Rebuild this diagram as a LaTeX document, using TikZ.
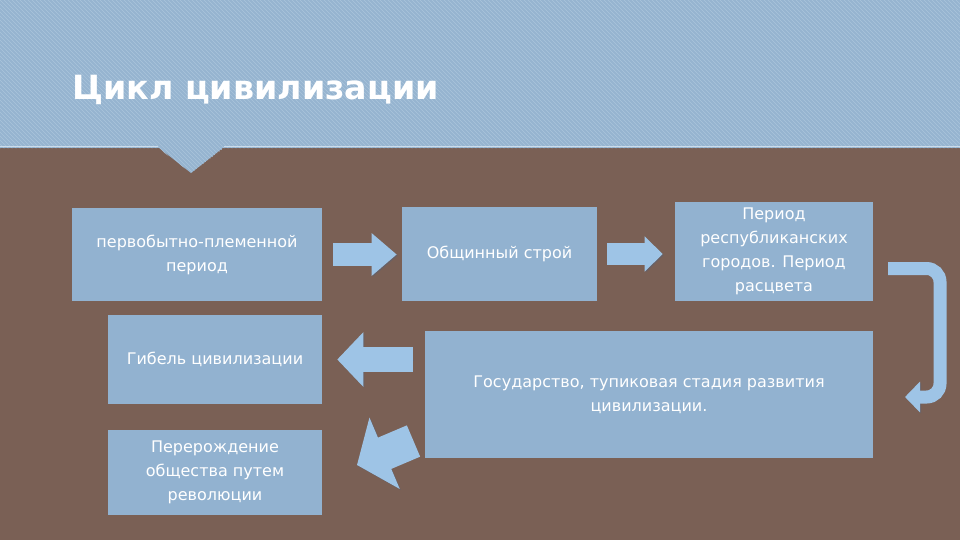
\documentclass[tikz,border=0pt]{standalone}
\usepackage{fontspec}
\setmainfont{DejaVu Sans}
\usetikzlibrary{arrows.meta,patterns}

\definecolor{fonbrown}{RGB}{122,96,85}
\definecolor{shapkablue}{RGB}{150,180,208}
\definecolor{polosa}{RGB}{170,196,220}
\definecolor{boxblue}{RGB}{146,178,208}
\definecolor{strelka}{RGB}{158,196,230}
\definecolor{strelkaten}{RGB}{88,96,118}

\tikzset{
  etap/.style={fill=boxblue, text=white, align=center, inner sep=2pt,
    font=\fontsize{12}{18}\selectfont},
  blokstrelka/.style n args={3}{draw=strelka, line width=#1,
    -{Triangle[width=#2,length=#3]},
    preaction={draw=strelkaten, opacity=0.5, transform canvas={shift={(0.8pt,-0.8pt)}}}}
}

\begin{document}
\begin{tikzpicture}[x=0.75pt, y=-0.75pt]
            \useasboundingbox (0,0) rectangle (960,540);
            % Фон
            \fill[fonbrown] (0,0) rectangle (960,540);

            % Шапка
            \fill[shapkablue] (0,0) rectangle (960,148);
            \fill[shapkablue] (158,147) -- (224,147) -- (191,173) -- cycle;
            \fill[pattern=north west lines, pattern color=polosa] (0,0) -- (960,0) -- (960,148)
                -- (224,148) -- (191,173) -- (158,148) -- (0,148) -- cycle;
            \draw[polosa!60!white, line width=0.6pt] (0,146) -- (158,146) (224,146) -- (960,146);
            \node[anchor=base west, inner xsep=0pt, text=white, font=\bfseries\fontsize{25}{28}\selectfont]
                (zagolovok) at (72,99) {Цикл цивилизации};

            % Этапы
            \node[etap, minimum width=187.5pt, minimum height=69.75pt] (b1) at (197,254.5)
                {первобытно-племенной\\период};
            \node[etap, minimum width=146.25pt, minimum height=70.5pt] (b2) at (499.5,254)
                {Общинный строй};
            \node[etap, minimum width=148.5pt, minimum height=74.25pt] (b3) at (774,251.5)
                {Период\\республиканских\\городов. Период\\расцвета};
            \node[etap, minimum width=336pt, minimum height=95.25pt] (b5) at (649,394.5)
                {Государство, тупиковая стадия развития\\цивилизации.};
            \node[etap, minimum width=160.5pt, minimum height=66.75pt] (b6) at (215,359.5)
                {Гибель цивилизации};
            \node[etap, minimum width=160.5pt, minimum height=63.75pt] (b7) at (215,472.5)
                {Перерождение\\общества путем\\революции};

            % Стрелки
            \draw[blokstrelka={17.25pt}{30.75pt}{18.75pt}, shorten <=8.25pt, shorten >=3.75pt]
                (b1.east) -- (b1.east -| b2.west);
            \draw[blokstrelka={16.5pt}{25.5pt}{13.5pt}, shorten <=7.5pt, shorten >=9pt]
                (b2.east) -- (b2.east -| b3.west);
            \draw[blokstrelka={18.75pt}{39.75pt}{19.5pt}, shorten <=9pt, shorten >=11.25pt]
                (b5.west |- b6.east) -- (b6.east);
            % Поворот вниз
            \coordinate (u1) at (888,268.5);
            \coordinate (u2) at (905,397);
            \draw[blokstrelka={9.75pt}{22.5pt}{11.25pt}, rounded corners=10pt]
                (u1) -- ++(52,0) -- ++(0,128.5) -- (u2);
            % Косая стрелка
            \coordinate (d1) at (413.5,441);
            \coordinate (d2) at (357,465);
            \draw[blokstrelka={25.5pt}{57pt}{22.5pt}] (d1) -- (d2);
\end{tikzpicture}
\end{document}
